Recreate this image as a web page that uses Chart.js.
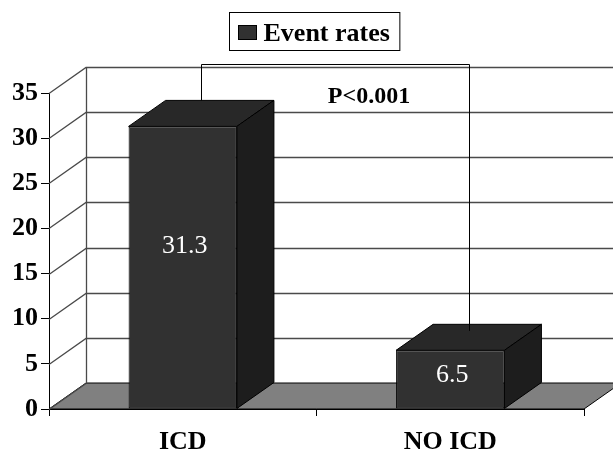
<!DOCTYPE html>
<html>
<head>
<meta charset="utf-8">
<script src="https://cdn.jsdelivr.net/npm/chart.js@4/dist/chart.umd.min.js"></script>
<style>
  html, body { margin: 0; padding: 0; background: #fff; }
  #chart { display: block; }
</style>
</head>
<body>
<canvas id="chart" width="613" height="451"></canvas>
<script>
// dados
const categories = ['ICD', 'NO ICD'];
const eventRates = [31.3, 6.5];
const seriesLabel = 'Event rates';
const pValueText = 'P<0.001';
const yMin = 0;
const yMax = 35;
const yStep = 5;

const SERIF = "'Liberation Serif', 'Times New Roman', serif";
const DX = 37, DY = -26; // profundidade 3D

// paleta cinza
const frontColor = '#313131';
const topColor = '#282828';
const sideColor = '#1d1d1d';
const floorColor = '#808080';
const gridColor = '#4a4a4a';

function poly(c, pts, fill) {
  c.beginPath();
  c.moveTo(pts[0][0], pts[0][1]);
  for (let i = 1; i < pts.length; i++) c.lineTo(pts[i][0], pts[i][1]);
  c.closePath();
  if (fill) { c.fillStyle = fill; c.fill(); }
  c.stroke();
}

// parede de fundo, piso e faces 3D das barras
const box3d = {
  id: 'box3d',
  beforeDatasetsDraw(chart) {
    const c = chart.ctx;
    const { left, right, bottom } = chart.chartArea;
    const y = chart.scales.y;
    const W = chart.width + 20;
    c.save();
    // piso
    c.strokeStyle = '#000';
    c.lineWidth = 1;
    poly(c, [[left, bottom], [right, bottom], [right + DX, bottom + DY], [left + DX, bottom + DY]], floorColor);
    // linhas de grade no fundo
    c.strokeStyle = gridColor;
    c.lineWidth = 1.3;
    for (let v = yMin; v <= yMax; v += yStep) {
      const py = Math.round(y.getPixelForValue(v)) + 0.5;
      c.beginPath();
      c.moveTo(left, py);
      c.lineTo(left + DX, py + DY);
      if (v > yMin) c.lineTo(W, py + DY);
      c.stroke();
    }
    c.beginPath();
    c.moveTo(left + DX + 0.5, y.getPixelForValue(yMax) + DY);
    c.lineTo(left + DX + 0.5, y.getPixelForValue(yMin) + DY);
    c.stroke();

    // faces de cima e do lado
    c.strokeStyle = '#000';
    c.lineWidth = 1;
    chart.getDatasetMeta(0).data.forEach(bar => {
      const l = bar.x - bar.width / 2, r = bar.x + bar.width / 2;
      const t = bar.y, b = bar.base;
      poly(c, [[l, t], [r, t], [r + DX, t + DY], [l + DX, t + DY]], topColor);
      poly(c, [[r, t], [r + DX, t + DY], [r + DX, b + DY], [r, b]], sideColor);
    });
    c.restore();
  },
  afterDatasetsDraw(chart) {
    const c = chart.ctx;
    const bars = chart.getDatasetMeta(0).data;
    const y = chart.scales.y;
    c.save();
    // rotulos de valor
    c.fillStyle = '#fff';
    c.font = '26px ' + SERIF;
    c.textAlign = 'center';
    c.textBaseline = 'middle';
    bars.forEach((bar, i) => {
      const h = bar.base - bar.y;
      c.fillText(String(eventRates[i]), bar.x + 2, (bar.y + bar.base) / 2 - 0.075 * h);
    });
    // colchete do valor p
    const x1 = bars[0].x + DX / 2, x2 = bars[1].x + DX / 2;
    const topY = y.getPixelForValue(yMax) + DY - 3;
    c.strokeStyle = '#000';
    c.lineWidth = 1;
    c.beginPath();
    c.moveTo(Math.round(x1) + 0.5, bars[0].y + DY);
    c.lineTo(Math.round(x1) + 0.5, Math.round(topY) + 0.5);
    c.lineTo(Math.round(x2) + 0.5, Math.round(topY) + 0.5);
    c.lineTo(Math.round(x2) + 0.5, bars[1].y + DY * 0.75);
    c.stroke();
    c.fillStyle = '#000';
    c.font = 'bold 24px ' + SERIF;
    c.textAlign = 'center';
    c.textBaseline = 'alphabetic';
    c.fillText(pValueText, (x1 + x2) / 2 + 34, topY + 39);
    c.restore();
  },
  afterDraw(chart) {
    // legenda com moldura
    const c = chart.ctx;
    c.save();
    c.font = 'bold 26px ' + SERIF;
    const tw = c.measureText(seriesLabel).width;
    const boxW = 9 + 18 + 7 + tw + 10;
    const bx = Math.round(314 - boxW / 2) + 0.5, by = 12.5;
    c.strokeStyle = '#000';
    c.lineWidth = 1;
    c.strokeRect(bx, by, boxW, 38);
    c.fillStyle = frontColor;
    c.fillRect(bx + 9, by + 13, 18, 14);
    c.strokeRect(bx + 9, by + 13, 18, 14);
    c.fillStyle = '#000';
    c.textBaseline = 'alphabetic';
    c.fillText(seriesLabel, bx + 34, by + 28);
    c.restore();
  }
};

const chart = new Chart(document.getElementById('chart').getContext('2d'), {
  type: 'bar',
  data: {
    labels: categories,
    datasets: [{
      label: seriesLabel,
      data: eventRates,
      backgroundColor: frontColor,
      borderColor: '#000',
      borderWidth: 1,
      borderSkipped: false,
      barPercentage: 0.405,
      categoryPercentage: 1
    }]
  },
  options: {
    responsive: false,
    animation: false,
    layout: { padding: { top: 93, right: 29, left: 0, bottom: 0 } },
    plugins: { legend: { display: false }, tooltip: { enabled: false } },
    scales: {
      x: {
        afterFit: s => { s.height = 42; },
        grid: { drawOnChartArea: false, offset: true, color: '#000', tickLength: 7 },
        border: { color: '#000' },
        ticks: { color: '#000', padding: 11, font: { family: SERIF, size: 26, weight: 'bold' } }
      },
      y: {
        min: yMin,
        max: yMax,
        afterFit: s => { s.width = 49; },
        grid: { drawOnChartArea: false, color: '#000', tickLength: 8 },
        border: { color: '#000' },
        ticks: { stepSize: yStep, color: '#000', padding: 3, font: { family: SERIF, size: 26, weight: 'bold' } }
      }
    }
  },
  plugins: [box3d]
});
</script>
</body>
</html>
